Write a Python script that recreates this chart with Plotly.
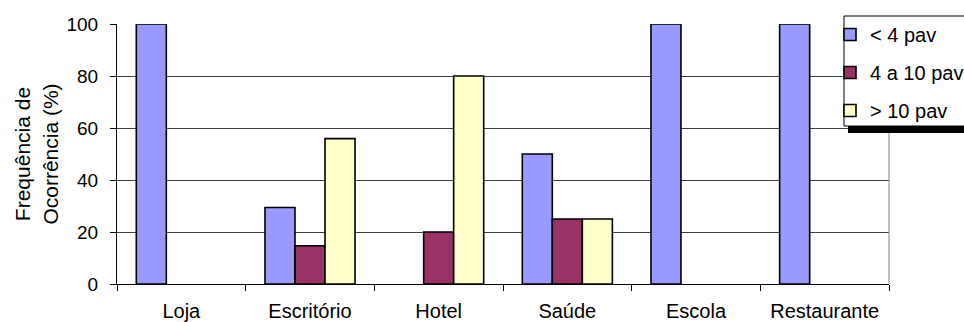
import plotly.graph_objects as go

categories = ["Loja", "Escritório", "Hotel", "Saúde", "Escola", "Restaurante"]
series_names = ["< 4 pav", "4 a 10 pav", "> 10 pav"]
menos_4 = [100, 29.4, 0, 50, 100, 100]
de_4_a_10 = [0, 14.7, 20, 25, 0, 0]
mais_10 = [0, 55.9, 80, 25, 0, 0]
colors = ["#9999FF", "#993366", "#FFFFCC"]
y_ticks = [0, 20, 40, 60, 80, 100]

font = "Liberation Sans, Arial, sans-serif"
FS = 19

fig = go.Figure()
for i, (name, vals) in enumerate(zip(series_names, [menos_4, de_4_a_10, mais_10])):
    fig.add_trace(go.Bar(
        x=categories, y=[v if v else None for v in vals], name=name, legendgroup=f"g{i}",
        marker=dict(color=colors[i], line=dict(color="black", width=1.6)),
    ))

W, H = 964, 322
ml, mr, mt, mb = 117, 75, 24, 38
pw = W - ml - mr
ph = H - mt - mb

def px_x(px):
    return (px - ml) / pw

def px_y(py):
    return (H - mb - py) / ph

fig.update_layout(
    width=W, height=H,
    margin=dict(l=ml, r=mr, t=mt, b=mb, autoexpand=False),
    paper_bgcolor="white", plot_bgcolor="white",
    font=dict(family=font, size=FS, color="black"),
    barmode="group", bargap=0.3, bargroupgap=0,
    showlegend=True,
    legend=dict(
        x=px_x(830), y=px_y(15), xanchor="left", yanchor="top",
        bgcolor="rgba(0,0,0,0)", borderwidth=0,
        font=dict(family=font, size=20, color="black"),
        tracegroupgap=9, traceorder="grouped",
    ),
    xaxis=dict(
        showline=True, linecolor="black", linewidth=1,
        ticks="outside", tickson="boundaries", ticklen=6, tickcolor="black",
        showgrid=False, ticklabelstandoff=9,
        tickfont=dict(family=font, size=20),
    ),
    yaxis=dict(
        range=[0, 100], tickvals=y_ticks, showline=True, linecolor="black", linewidth=1,
        ticks="outside", ticklen=6, tickcolor="black",
        showgrid=True, gridcolor="#404040", gridwidth=1, zeroline=False,
        ticklabelstandoff=8,
        title=dict(text="Frequência de<br>Ocorrência (%)", standoff=2,
                   font=dict(family=font, size=21)),
    ),
    shapes=[
        dict(type="line", xref="paper", yref="paper", x0=1, x1=1, y0=0, y1=1,
             line=dict(color="#808080", width=1)),
        dict(type="rect", xref="paper", yref="paper",
             x0=px_x(848), x1=px_x(975), y0=px_y(133), y1=px_y(22),
             fillcolor="black", line=dict(width=0), layer="above"),
        dict(type="rect", xref="paper", yref="paper",
             x0=px_x(844), x1=px_x(975), y0=px_y(126), y1=px_y(16),
             fillcolor="white", line=dict(color="black", width=1), layer="above"),
    ],
)

fig.write_html("out.html")
